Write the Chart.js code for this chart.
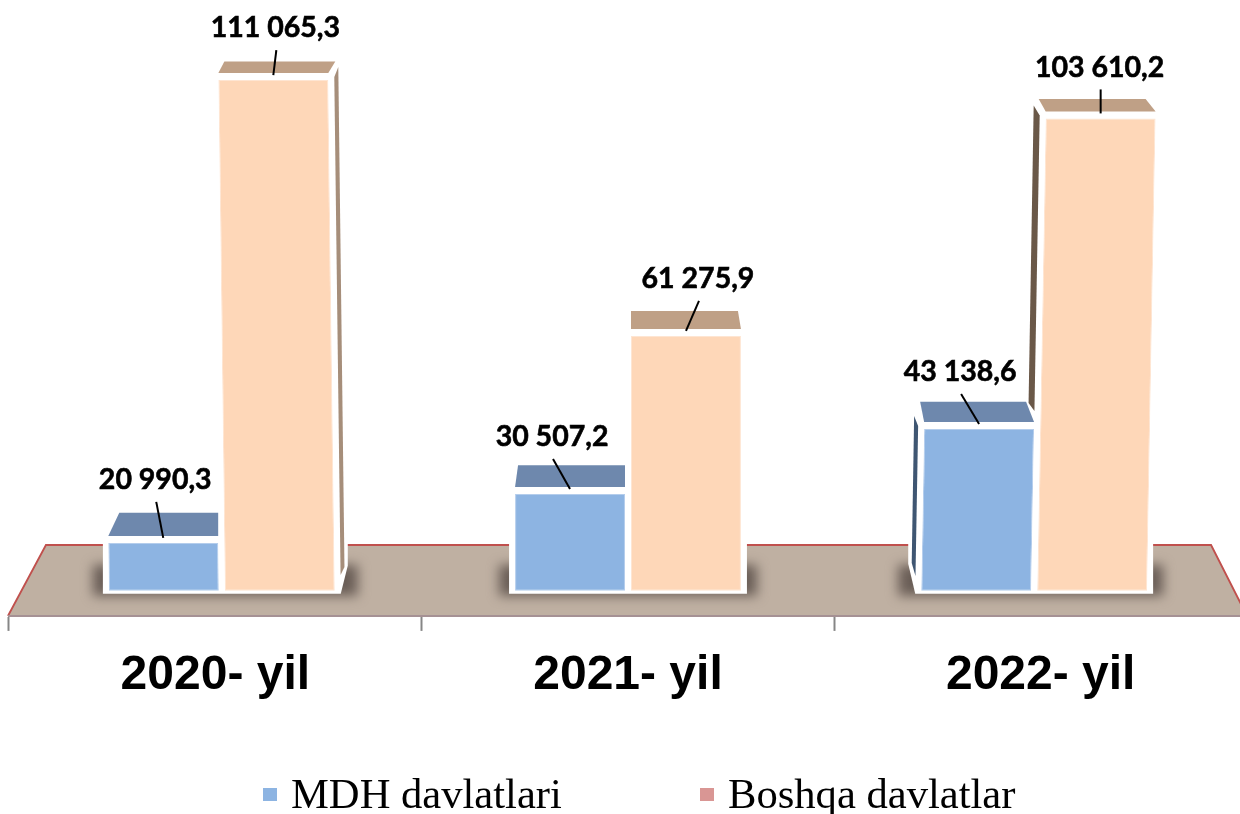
<!DOCTYPE html>
<html>
<head>
<meta charset="utf-8">
<title>MDH davlatlari va boshqa davlatlar</title>
<script src="https://cdn.jsdelivr.net/npm/chart.js@4"></script>
<style>
  html, body { margin: 0; padding: 0; background: #fff; }
  #wrap { width: 1240px; height: 814px; overflow: hidden; }
  canvas { display: block; }
</style>
</head>
<body>
<div id="wrap"><canvas id="chart" width="1260" height="814"></canvas></div>
<script>
const categories = ["2020- yil", "2021- yil", "2022- yil"];
const mdhValues = [20990.3, 30507.2, 43138.6];
const boshqaValues = [111065.3, 61275.9, 103610.2];
const seriesNames = ["MDH davlatlari", "Boshqa davlatlar"];

// the picture's axis does not start at zero
const axisMin = 6777;
const axisMax = 126660;
const barBase = 11650;

const topColors = ["#6E88AD", "#BFA086"];
const legendColors = ["#8DB4E2", "#D99694"];

// perspective of the picture, per category
const lean = [-0.0127, 0, 0.018];
const shift = [6.5, 0, -6.5];
const wedgeLeft = [0, 0, 7];
const wedgeRight = [7, 0, 0];

// how far the back edge of each bar top moves: [left, right], per series and category
const topSkew = [
  [[11, 0], [3, 0], [-4, -8]],
  [[6, 7], [0, -3], [-7, -10]],
];
// label offset from the middle of the bar top: [dx, dy]
const labelOffset = [
  [[-8, -63], [-18, -57], [-19, -57]],
  [[2, -52], [12, -57], [-1, -51]],
];
// side faces: series, category, side, gap, width, inner end y, outer end y, colour
const sideFaces = [
  [1, 0, 1, 6, 4, 575, 567, "#A68E7A"],
  [0, 2, -1, 6, 4, 576, 563, "#3F5672"],
  [1, 2, -1, 6, 6, 411, 403, "#6A5848"],
];

function formatValue(v) {
  const parts = v.toFixed(1).split(".");
  return parts[0].replace(/\B(?=(\d{3})+$)/g, " ") + "," + parts[1];
}

function poly(ctx, pts, fill) {
  ctx.beginPath();
  pts.forEach((p, i) => (i ? ctx.lineTo(p[0], p[1]) : ctx.moveTo(p[0], p[1])));
  ctx.closePath();
  ctx.fillStyle = fill;
  ctx.fill();
}

function edgeX(chart, i, x, y) {
  const baseY = chart.scales.y.getPixelForValue(barBase);
  return x + shift[i] + lean[i] * (baseY - y);
}

const scene = {
  id: "scene",
  beforeDraw(chart) {
    const ctx = chart.ctx;
    const a = chart.chartArea;
    const backY = a.bottom - 71;
    const front = [[a.left - 1, a.bottom], [a.right, a.bottom]];
    const back = [[a.left + 37, backY], [a.right - 36, backY]];
    poly(ctx, [front[0], back[0], back[1], front[1]], "#BFB0A2");
    ctx.beginPath();
    ctx.moveTo(front[0][0], front[0][1]);
    ctx.lineTo(back[0][0], back[0][1]);
    ctx.lineTo(back[1][0], back[1][1]);
    ctx.lineTo(front[1][0], front[1][1]);
    ctx.strokeStyle = "#C0504D";
    ctx.lineWidth = 2;
    ctx.stroke();
  },
  beforeDatasetsDraw(chart) {
    const ctx = chart.ctx;
    const m0 = chart.getDatasetMeta(0).data;
    const m1 = chart.getDatasetMeta(1).data;
    const backY = chart.chartArea.bottom - 73;
    categories.forEach((c, i) => {
      const bottom = m0[i].base;
      const L = m0[i].x - m0[i].width / 2 + shift[i] - 6;
      const R = m1[i].x + m1[i].width / 2 + shift[i] + 6;
      ctx.save();
      ctx.filter = "blur(6px)";
      ctx.fillStyle = "#6A5E57";
      ctx.fillRect(L - 10 - wedgeLeft[i], bottom - 26, R - L + 20 + wedgeLeft[i] + wedgeRight[i], 31);
      ctx.restore();
      poly(ctx, [
        [L, bottom + 3], [R, bottom + 3],
        [R + wedgeRight[i], bottom - 25], [R + wedgeRight[i], backY],
        [L - wedgeLeft[i], backY], [L - wedgeLeft[i], bottom - 27],
      ], "#fff");
    });
  },
  beforeDatasetDraw(chart, args) {
    // bars lean a little in the picture, so each one is sheared from its base
    const ctx = chart.ctx;
    const baseY = chart.scales.y.getPixelForValue(barBase);
    args.meta.data.forEach((el, i) => {
      ctx.save();
      ctx.transform(1, 0, -lean[i], 1, shift[i] + lean[i] * baseY, 0);
      el.draw(ctx);
      ctx.restore();
    });
    return false;
  },
  afterDatasetsDraw(chart) {
    const ctx = chart.ctx;
    sideFaces.forEach((f) => {
      const [s, i, side, gap, w, innerEnd, outerEnd, color] = f;
      const el = chart.getDatasetMeta(s).data[i];
      const x = el.x + side * el.width / 2;
      const T = el.y;
      const fx = (y) => edgeX(chart, i, x, y) + side * gap;
      poly(ctx, [
        [fx(T) + side * w, T - 13],
        [fx(T), T - 3],
        [fx(innerEnd), innerEnd],
        [fx(outerEnd) + side * w, outerEnd],
      ], color);
    });
    chart.data.datasets.forEach((ds, s) => {
      chart.getDatasetMeta(s).data.forEach((el, i) => {
        const T = el.y;
        const xl = edgeX(chart, i, el.x - el.width / 2, T);
        const xr = edgeX(chart, i, el.x + el.width / 2, T);
        const depth = 9.5 + 0.025 * T;
        const skew = topSkew[s][i];
        poly(ctx, [
          [xl, T - 7], [xr, T - 7],
          [xr + skew[1], T - 7 - depth], [xl + skew[0], T - 7 - depth],
        ], topColors[s]);

        const mid = (xl + xr) / 2;
        const off = labelOffset[s][i];
        const lx = mid + off[0];
        const ly = T + off[1];
        ctx.beginPath();
        ctx.moveTo(lx + 1, ly + 22);
        ctx.lineTo(mid, T - 5);
        ctx.strokeStyle = "#000";
        ctx.lineWidth = 2;
        ctx.stroke();
        ctx.fillStyle = "#000";
        ctx.font = "bold 28.5px Lato";
        ctx.textAlign = "center";
        ctx.textBaseline = "middle";
        ctx.lineWidth = 0.6;
        ctx.fillText(formatValue(ds.data[i]), lx, ly);
        ctx.strokeText(formatValue(ds.data[i]), lx, ly);
      });
    });
  },
  afterDraw(chart) {
    const ctx = chart.ctx;
    const items = [[263, 291], [700, 728]];
    ctx.font = "42.6px 'Liberation Serif'";
    ctx.textAlign = "left";
    ctx.textBaseline = "alphabetic";
    seriesNames.forEach((name, s) => {
      ctx.fillStyle = legendColors[s];
      ctx.fillRect(items[s][0], 788, 14, 13);
      ctx.fillStyle = "#000";
      ctx.fillText(name, items[s][1], 808);
    });
  },
};

const config = {
  type: "bar",
  data: {
    labels: categories,
    datasets: [
      {
        label: seriesNames[0],
        data: mdhValues,
        base: barBase,
        backgroundColor: "#8DB4E2",
        borderColor: "#B4CDEC",
        borderWidth: 1,
        borderSkipped: false,
      },
      {
        label: seriesNames[1],
        data: boshqaValues,
        base: barBase,
        backgroundColor: "#FED7B8",
        borderColor: "#FEE5D2",
        borderWidth: 1,
        borderSkipped: false,
      },
    ],
  },
  options: {
    responsive: false,
    animation: false,
    categoryPercentage: 0.562,
    barPercentage: 0.948,
    layout: { padding: { left: 9, right: 13, top: 0, bottom: 93.5 } },
    plugins: {
      legend: { display: false },
      tooltip: { enabled: false },
    },
    scales: {
      x: {
        grid: {
          offset: true,
          drawOnChartArea: false,
          tickLength: 15,
          tickColor: "#868686",
          tickWidth: 2,
        },
        border: { display: true, color: "#A59194", width: 2 },
        ticks: {
          color: "#000",
          padding: 16,
          autoSkip: false,
          maxRotation: 0,
          font: { family: "'Liberation Sans'", size: 48, weight: "bold" },
        },
      },
      y: { display: false, min: axisMin, max: axisMax },
    },
  },
  plugins: [scene],
};

const chart = new Chart(document.getElementById("chart").getContext("2d"), config);
</script>
</body>
</html>
